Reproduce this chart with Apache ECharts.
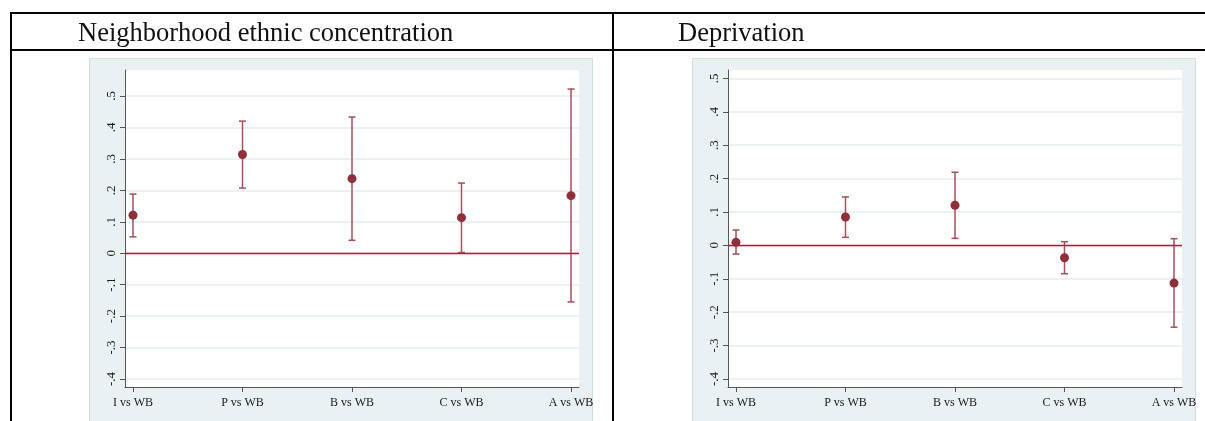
<!DOCTYPE html>
<html>
<head>
    <meta charset="utf-8">
    <script src="https://cdn.jsdelivr.net/npm/echarts@6/dist/echarts.min.js"></script>
</head>
<body style="margin:0;background:#fff">
<div id="main" style="width:1205px;height:421px"></div>
<script>
    // data
    var titles = ['Neighborhood ethnic concentration', 'Deprivation'];
    var groups = ['I vs WB', 'P vs WB', 'B vs WB', 'C vs WB', 'A vs WB'];
    var yTicks = [-0.4, -0.3, -0.2, -0.1, 0, 0.1, 0.2, 0.3, 0.4, 0.5];

    var ethnicEst = [0.121, 0.314, 0.237, 0.113, 0.183];
    var ethnicLow = [0.052, 0.207, 0.041, 0.002, -0.155];
    var ethnicHigh = [0.188, 0.420, 0.433, 0.223, 0.522];

    var deprEst = [0.009, 0.085, 0.120, -0.037, -0.113];
    var deprLow = [-0.026, 0.024, 0.021, -0.085, -0.245];
    var deprHigh = [0.046, 0.145, 0.219, 0.011, 0.020];

    var chart = echarts.init(document.getElementById('main'));

    var serif = 'Liberation Serif';
    var markerColor = '#8e2f39';
    var barColor = '#a2505a';

    var fmtTick = function (v) {
        var s = (Math.round(v * 10) / 10).toString();
        return s.replace('0.', '.');
    };

    function xAxisFor(i) {
        return {
            gridIndex: i,
            type: 'value',
            min: 0.927,
            max: 5.073,
            axisLine: {show: true, onZero: false, lineStyle: {color: '#555', width: 1}},
            axisTick: {show: true, length: 5, customValues: [1, 2, 3, 4, 5], lineStyle: {color: '#555'}},
            axisLabel: {
                customValues: [1, 2, 3, 4, 5],
                margin: 10,
                fontFamily: serif,
                fontSize: 12,
                color: '#1a1a1a',
                formatter: function (v) { return groups[Math.round(v) - 1]; }
            },
            splitLine: {show: false}
        };
    }

    function yAxisFor(i, min, max) {
        return {
            gridIndex: i,
            type: 'value',
            min: min,
            max: max,
            axisLine: {show: true, onZero: false, lineStyle: {color: '#555', width: 1}},
            axisTick: {show: true, length: 5, customValues: yTicks, lineStyle: {color: '#555'}},
            axisLabel: {
                customValues: yTicks,
                rotate: 90,
                margin: 7,
                fontFamily: serif,
                fontSize: 13,
                color: '#1a1a1a',
                formatter: fmtTick
            },
            splitLine: {show: true, lineStyle: {color: '#e6eef0', width: 1.5}}
        };
    }

    function errorBars(i, low, high) {
        return {
            type: 'custom',
            xAxisIndex: i,
            yAxisIndex: i,
            silent: true,
            data: groups.map(function (g, k) { return [k + 1, low[k], high[k]]; }),
            renderItem: function (params, api) {
                var lo = api.coord([api.value(0), api.value(1)]);
                var hi = api.coord([api.value(0), api.value(2)]);
                var w = 3.5;
                var st = {stroke: barColor, lineWidth: 1.5};
                return {
                    type: 'group',
                    children: [
                        {type: 'line', shape: {x1: lo[0], y1: lo[1], x2: hi[0], y2: hi[1]}, style: st},
                        {type: 'line', shape: {x1: lo[0] - w, y1: lo[1], x2: lo[0] + w, y2: lo[1]}, style: st},
                        {type: 'line', shape: {x1: hi[0] - w, y1: hi[1], x2: hi[0] + w, y2: hi[1]}, style: st}
                    ]
                };
            },
            z: 3
        };
    }

    function points(i, est) {
        return {
            type: 'scatter',
            xAxisIndex: i,
            yAxisIndex: i,
            symbolSize: 9,
            itemStyle: {color: markerColor, opacity: 1},
            data: groups.map(function (g, k) { return [k + 1, est[k]]; }),
            markLine: {
                silent: true,
                symbol: ['none', 'none'],
                label: {show: false},
                lineStyle: {color: '#c80c3a', type: 'solid', width: 1.4, opacity: 1},
                emphasis: {disabled: true},
                data: [{yAxis: 0, lineStyle: {color: '#c80c3a'}}]
            },
            z: 4
        };
    }

    var panelStyle = {fill: '#eaf1f3', stroke: '#d3dde1', lineWidth: 1};
    var rule = {stroke: '#000', lineWidth: 2};
    var titleStyle = {fontFamily: serif, fontSize: 26.5, fontWeight: 'normal', color: '#111'};

    var option = {
        animation: false,
        title: [
            {text: titles[0], left: 73, top: 16, textStyle: titleStyle},
            {text: titles[1], left: 673, top: 16, textStyle: titleStyle}
        ],
        graphic: [
            {type: 'rect', shape: {x: 89.5, y: 58.5, width: 503, height: 380}, style: panelStyle, z: -10},
            {type: 'rect', shape: {x: 692.5, y: 58.5, width: 503, height: 380}, style: panelStyle, z: -10},
            {type: 'line', shape: {x1: 10, y1: 13, x2: 1205, y2: 13}, style: rule},
            {type: 'line', shape: {x1: 10, y1: 50, x2: 1205, y2: 50}, style: rule},
            {type: 'line', shape: {x1: 11, y1: 12, x2: 11, y2: 421}, style: rule},
            {type: 'line', shape: {x1: 613, y1: 12, x2: 613, y2: 421}, style: rule}
        ],
        grid: [
            {left: 125, top: 70, width: 454, height: 317, show: true, backgroundColor: '#fff', borderWidth: 0},
            {left: 728, top: 70, width: 454, height: 317, show: true, backgroundColor: '#fff', borderWidth: 0}
        ],
        xAxis: [xAxisFor(0), xAxisFor(1)],
        yAxis: [yAxisFor(0, -0.4254, 0.5825), yAxisFor(1, -0.424, 0.525)],
        series: [
            errorBars(0, ethnicLow, ethnicHigh),
            points(0, ethnicEst),
            errorBars(1, deprLow, deprHigh),
            points(1, deprEst)
        ]
    };

    chart.setOption(option);
</script>
</body>
</html>
